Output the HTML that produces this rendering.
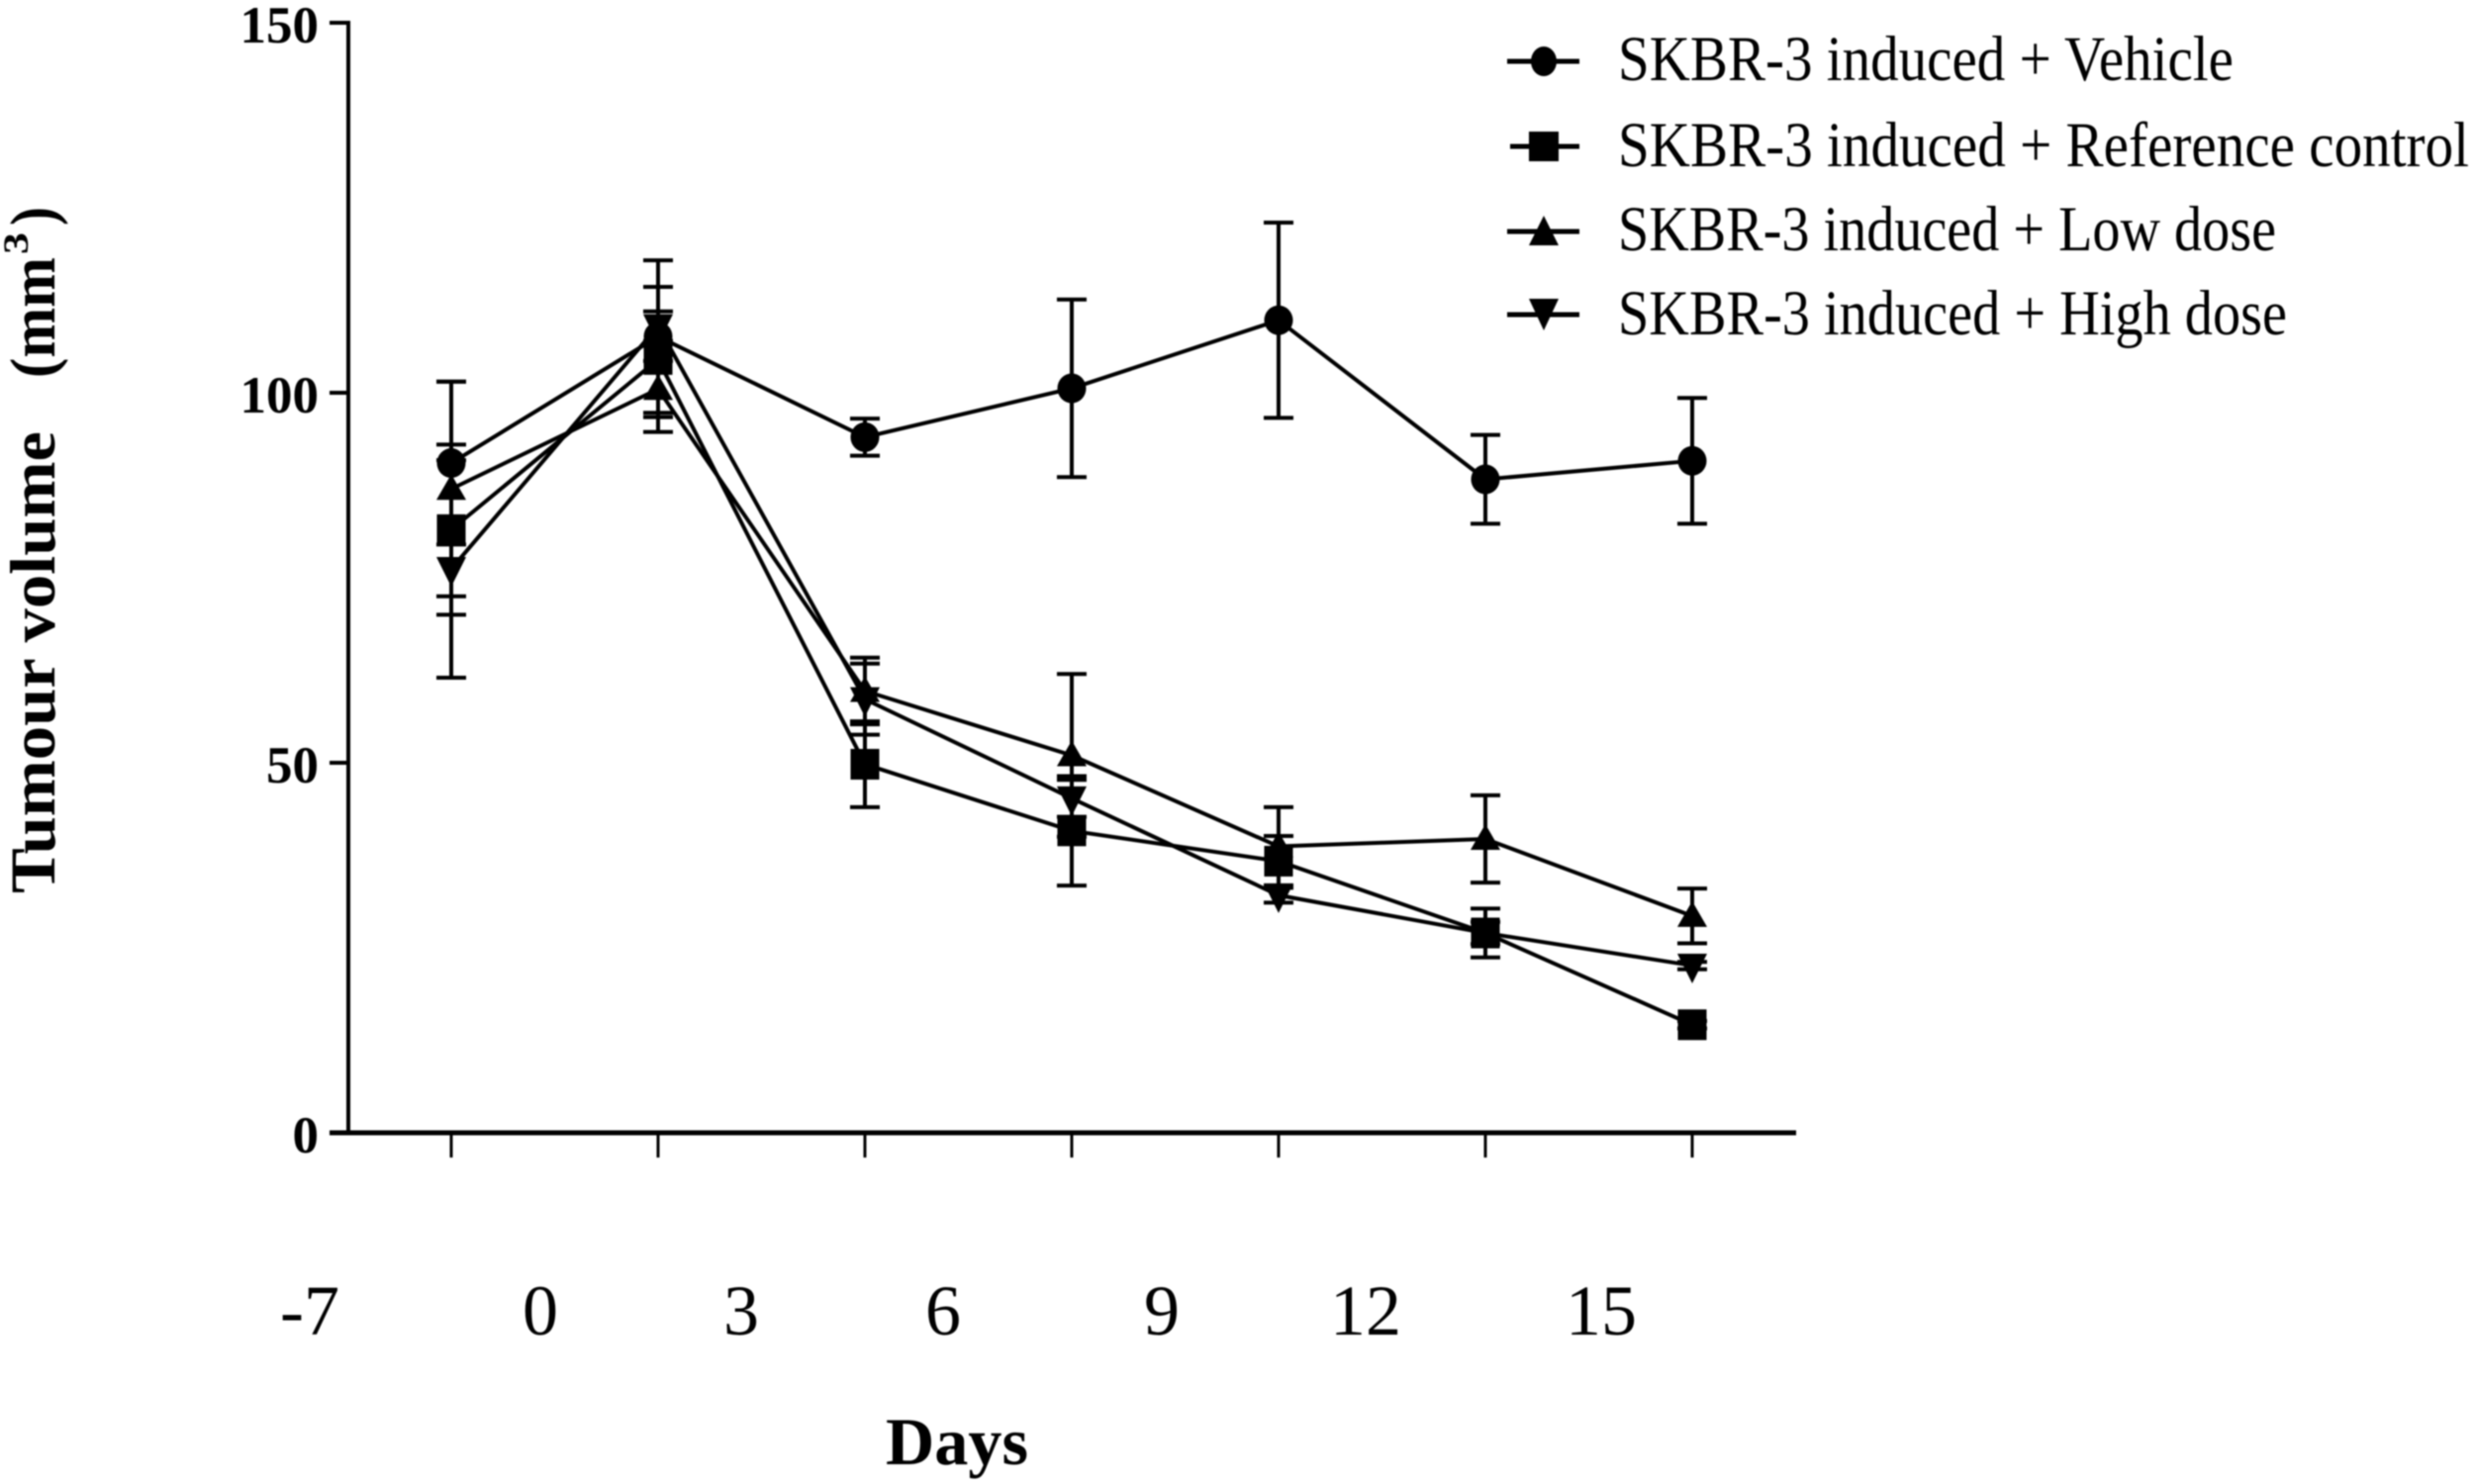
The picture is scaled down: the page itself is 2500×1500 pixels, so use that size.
<!DOCTYPE html>
<html lang="en">
<head>
<meta charset="utf-8">
<title>Tumour volume chart</title>
<style>
html,body{margin:0;padding:0;background:#fff;width:2500px;height:1500px;overflow:hidden}
svg{display:block;filter:blur(0.8px)}
text{font-family:"Liberation Serif",serif;fill:#000}
.lg{font-size:65px}
.xl{font-size:72px;text-anchor:middle}
.yl{font-size:53px;font-weight:bold;text-anchor:end}
.t{font-size:65px;font-weight:bold}
</style>
</head>
<body>
<svg id="chart" xmlns="http://www.w3.org/2000/svg" width="2500" height="1500" viewBox="0 0 2500 1500">
  <rect x="0" y="0" width="2500" height="1500" fill="#fff"/>
  <g id="axes">
    <line x1="352" y1="21" x2="352" y2="1145" stroke="#000" stroke-width="4"/>
    <line x1="333" y1="1145" x2="1815" y2="1145" stroke="#000" stroke-width="5"/>
  </g>
  <g id="marks"></g>

  <g>
    <text class="xl" x="313" y="1349">-7</text>
    <text class="xl" x="546" y="1349">0</text>
    <text class="xl" x="749" y="1349">3</text>
    <text class="xl" x="953" y="1349">6</text>
    <text class="xl" x="1174" y="1349">9</text>
    <text class="xl" x="1380" y="1349">12</text>
    <text class="xl" x="1618" y="1349">15</text>
  </g>

  <text class="t" x="895" y="1480" style="font-size:68px" textLength="144" lengthAdjust="spacingAndGlyphs">Days</text>

  <g transform="translate(55,903) rotate(-90)">
    <text class="t" x="0" y="0" textLength="467" lengthAdjust="spacingAndGlyphs">Tumour volume</text>
    <text class="t" x="521" y="0" textLength="122" lengthAdjust="spacingAndGlyphs">(mm</text>
    <text class="t" x="646" y="-27" style="font-size:36px" textLength="22" lengthAdjust="spacingAndGlyphs">3</text>
    <text class="t" x="675" y="0" textLength="19" lengthAdjust="spacingAndGlyphs">)</text>
  </g>

  <g>
    <g>
      <line x1="1523" y1="62" x2="1596" y2="62" stroke="#000" stroke-width="5"/>
      <ellipse cx="1560" cy="62" rx="13" ry="15" fill="#000"/>
      <text class="lg" x="1635" y="81" textLength="622" lengthAdjust="spacingAndGlyphs">SKBR-3 induced + Vehicle</text>
    </g>
    <g>
      <line x1="1526" y1="148" x2="1596" y2="148" stroke="#000" stroke-width="5"/>
      <rect x="1545" y="133" width="30" height="30" fill="#000"/>
      <text class="lg" x="1635" y="168" textLength="860" lengthAdjust="spacingAndGlyphs">SKBR-3 induced + Reference control</text>
    </g>
    <g>
      <line x1="1523" y1="234" x2="1596" y2="234" stroke="#000" stroke-width="5"/>
      <polygon points="1560,218 1575,248 1545,248" fill="#000"/>
      <text class="lg" x="1635" y="253" textLength="665" lengthAdjust="spacingAndGlyphs">SKBR-3 induced + Low dose</text>
    </g>
    <g>
      <line x1="1523" y1="318" x2="1596" y2="318" stroke="#000" stroke-width="5"/>
      <polygon points="1545,302 1575,302 1560,334" fill="#000"/>
      <text class="lg" x="1635" y="338" textLength="676" lengthAdjust="spacingAndGlyphs">SKBR-3 induced + High dose</text>
    </g>
  </g>
</svg>
<script>
// Chart data
const categories = ["Baseline", "Point 2", "Point 3", "Point 4", "Point 5", "Point 6", "Point 7"];
const yTicks = [0, 50, 100, 150];

const vehicleMean = [90.5, 107.6, 94.0, 100.6, 109.8, 88.3, 90.8];
const vehicleErr = [11.0, 10.3, 2.5, 12.0, 13.2, 6.0, 8.5];

const referenceMean = [81.5, 104.5, 49.8, 40.8, 36.7, 27.0, 14.6];
const referenceErr = [11.5, 9.8, 5.8, 7.4, 3.4, 3.3, 0.5];

const lowDoseMean = [87.0, 100.5, 59.7, 51.0, 38.7, 39.7, 29.3];
const lowDoseErr = [14.5, 3.8, 4.5, 11.0, 5.3, 5.9, 3.7];

const highDoseMean = [76.2, 109.0, 58.6, 45.2, 32.1, 27.0, 22.6];
const highDoseErr = [14.7, 2.0, 4.8, 2.5, 1.0, 1.5, 0.5];

const NS = "http://www.w3.org/2000/svg";
const marks = document.getElementById("marks");
const axes = document.getElementById("axes");

function xScale(i) { return 456 + 209 * i; }
function yScale(v) { return 1145 - 7.48 * v; }

function addLine(parent, x1, y1, x2, y2, w) {
  const l = document.createElementNS(NS, "line");
  l.setAttribute("x1", x1);
  l.setAttribute("y1", y1);
  l.setAttribute("x2", x2);
  l.setAttribute("y2", y2);
  l.setAttribute("stroke", "#000");
  l.setAttribute("stroke-width", w);
  parent.appendChild(l);
  return l;
}

// y ticks and labels
yTicks.forEach(function (v) {
  const py = yScale(v);
  if (v !== 0) {
    const tick = addLine(axes, 333, py, 352, py, 4);
    
    
  }
  const label = document.createElementNS(NS, "text");
  label.setAttribute("class", "yl");
  label.setAttribute("x", 322);
  label.setAttribute("y", py + 20);
  label.textContent = String(v);
  
  
  axes.appendChild(label);
});

// x ticks
categories.forEach(function (c, i) {
  const tick = addLine(axes, xScale(i), 1145, xScale(i), 1170, 3);
  
  
});

function drawMarker(parent, kind, px, py) {
  let m;
  if (kind === "circle") {
    m = document.createElementNS(NS, "ellipse");
    m.setAttribute("cx", px);
    m.setAttribute("cy", py);
    m.setAttribute("rx", 14.5);
    m.setAttribute("ry", 15);
  } else if (kind === "square") {
    m = document.createElementNS(NS, "rect");
    m.setAttribute("x", px - 14.5);
    m.setAttribute("y", py - 15.5);
    m.setAttribute("width", 29);
    m.setAttribute("height", 31);
  } else if (kind === "up") {
    m = document.createElementNS(NS, "polygon");
    m.setAttribute("points", px + "," + (py - 15) + " " + (px + 15) + "," + (py + 11) + " " + (px - 15) + "," + (py + 11));
  } else {
    m = document.createElementNS(NS, "polygon");
    m.setAttribute("points", (px - 15) + "," + (py - 12) + " " + (px + 15) + "," + (py - 12) + " " + px + "," + (py + 18));
  }
  m.setAttribute("fill", "#000");
  
  
  parent.appendChild(m);
}

function drawSeries(name, means, errs, kind) {
  const g = document.createElementNS(NS, "g");
  
  
  marks.appendChild(g);

  const path = document.createElementNS(NS, "polyline");
  path.setAttribute("points", means.map(function (v, i) { return xScale(i) + "," + yScale(v); }).join(" "));
  path.setAttribute("fill", "none");
  path.setAttribute("stroke", "#000");
  path.setAttribute("stroke-width", 4);
  
  
  g.appendChild(path);

  means.forEach(function (v, i) {
    const px = xScale(i);
    const top = yScale(v + errs[i]);
    const bot = yScale(v - errs[i]);
    const stem = addLine(g, px, top, px, bot, 4);
    
    
    const capTop = addLine(g, px - 15, top, px + 15, top, 4);
    
    
    const capBot = addLine(g, px - 15, bot, px + 15, bot, 4);
    
    
    drawMarker(g, kind, px, yScale(v));
  });
}

drawSeries("series-vehicle", vehicleMean, vehicleErr, "circle");
drawSeries("series-reference-control", referenceMean, referenceErr, "square");
drawSeries("series-low-dose", lowDoseMean, lowDoseErr, "up");
drawSeries("series-high-dose", highDoseMean, highDoseErr, "down");
</script>
</body>
</html>
